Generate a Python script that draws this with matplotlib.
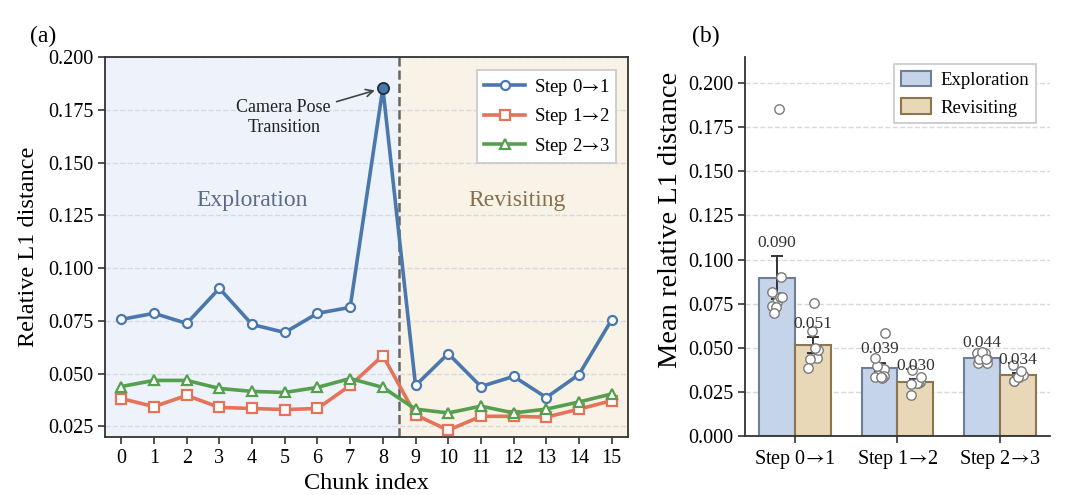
import matplotlib
matplotlib.use("Agg")
import matplotlib.pyplot as plt
import matplotlib.ticker as mticker
import numpy as np

plt.rcParams["font.family"] = ["Liberation Serif", "DejaVu Serif"]
plt.rcParams["mathtext.fontset"] = "stix"

# Per-chunk relative L1 distance
chunks = list(range(16))
step01 = [0.0757, 0.0786, 0.0738, 0.0904, 0.0733, 0.0695, 0.0786, 0.0814, 0.1853,
          0.0444, 0.0595, 0.0439, 0.0487, 0.0387, 0.0496, 0.0755]
step12 = [0.0382, 0.0344, 0.0397, 0.0340, 0.0335, 0.0330, 0.0335, 0.0444, 0.0586,
          0.0305, 0.0232, 0.0298, 0.0298, 0.0294, 0.0332, 0.0372]
step23 = [0.0439, 0.0468, 0.0468, 0.0430, 0.0416, 0.0411, 0.0435, 0.0477, 0.0435,
          0.0332, 0.0314, 0.0346, 0.0314, 0.0332, 0.0366, 0.0404]
ARROW = "$\\!{\\rightarrow}\\!$"
series_labels = [f"Step 0{ARROW}1", f"Step 1{ARROW}2", f"Step 2{ARROW}3"]
split_chunk = 8  # last exploration chunk
peak_chunk = 8

C_BLUE = "#4a78ac"
C_ORANGE = "#e5735a"
C_GREEN = "#55a04f"
colors = [C_BLUE, C_ORANGE, C_GREEN]
markers = ["o", "s", "^"]

fig = plt.figure(figsize=(10.8, 4.95), dpi=100)
ax1 = fig.add_axes([0.0972, 0.1172, 0.4843, 0.7676])
ax2 = fig.add_axes([0.690, 0.1192, 0.282, 0.7663])

# ---- (a) line plot ----
ax1.axvspan(-0.5, split_chunk + 0.5, color="#eef2fa", zorder=0)
ax1.axvspan(split_chunk + 0.5, 15.5, color="#f8f2e7", zorder=0)
ax1.axvline(split_chunk + 0.5, color="#666666", ls="--", lw=1.8, zorder=1)
ax1.grid(axis="y", ls="--", color="#d6d9de", lw=1.0, zorder=0.5)
ax1.set_axisbelow(True)

for vals, lab, c, m in zip([step01, step12, step23], series_labels, colors, markers):
    ax1.plot(chunks, vals, color=c, marker=m, ms=6.5, mfc="white", mec=c, mew=1.6,
             lw=2.6, label=lab, zorder=3)

ax1.plot(peak_chunk, step01[peak_chunk], "o", ms=8, mfc=C_BLUE, mec="#1e2a3a", mew=1.3, zorder=4)
ax1.annotate("Camera Pose\nTransition", xy=(peak_chunk, step01[peak_chunk]),
             xytext=(4.97, 0.1715), ha="center", va="center", fontsize=13, color="#222222",
             linespacing=1.25,
             arrowprops=dict(arrowstyle="->", color="#444444", lw=1.2, shrinkA=2, shrinkB=6),
             zorder=5)

ax1.text(4.0, 0.1318, "Exploration", ha="center", va="center", fontsize=17, color="#5a6a88")
ax1.text(12.1, 0.1318, "Revisiting", ha="center", va="center", fontsize=17, color="#86704f")

ax1.set_xlim(-0.5, 15.5)
ax1.set_ylim(0.02, 0.2)
ax1.set_xticks(chunks)
ax1.set_yticks([0.025, 0.05, 0.075, 0.1, 0.125, 0.15, 0.175, 0.2])
ax1.yaxis.set_major_formatter(mticker.FormatStrFormatter("%.3f"))
ax1.tick_params(labelsize=14.5, length=5, width=1.2, color="#333333")
for s in ax1.spines.values():
    s.set_color("#333333")
    s.set_linewidth(1.3)
ax1.set_xlabel("Chunk index", fontsize=17.5, labelpad=4)
ax1.set_ylabel("Relative L1 distance", fontsize=17.5, labelpad=6)
leg = ax1.legend(loc="upper right", fontsize=13.5, frameon=True, fancybox=False,
                 edgecolor="#cccccc", framealpha=1.0, borderpad=0.35, handlelength=2.2,
                 handletextpad=0.45, labelspacing=0.45, borderaxespad=0.2,
                 bbox_to_anchor=(0.985, 0.975))
leg.get_frame().set_linewidth(1.3)
fig.text(0.028, 0.905, "(a)", fontsize=17, ha="left", va="bottom")

# ---- (b) grouped bars ----
phases = ["Exploration", "Revisiting"]
bar_fill = ["#c6d4e9", "#e8d8b8"]
bar_edge = ["#6f7f99", "#8b7650"]
width = 0.35
x = np.arange(len(series_labels))

for gi, vals in enumerate([step01, step12, step23]):
    vals = np.array(vals)
    groups = [vals[:split_chunk + 1], vals[split_chunk + 1:]]
    for pi, g in enumerate(groups):
        xc = x[gi] + (pi - 0.5) * width
        mean = g.mean()
        sem = g.std(ddof=1) / np.sqrt(len(g))
        ax2.bar(xc, mean, width, color=bar_fill[pi], edgecolor=bar_edge[pi], lw=1.5,
                label=phases[pi] if gi == 0 else None, zorder=2)
        ax2.errorbar(xc, mean, yerr=sem, color="#333333", capsize=4, lw=1.4, capthick=1.4,
                     zorder=3)
        # deterministic jitter for the strip points
        jitter = 0.05 * np.sin(np.arange(len(g)) * 2.4 + gi + pi)
        ax2.scatter(xc + jitter, g, s=46, facecolor="white", edgecolor="#7a7a7a", lw=1.0,
                    zorder=4)
        ax2.text(xc, mean + sem + 0.003, f"{mean:.3f}", ha="center", va="bottom",
                 fontsize=12.5, color="#333333", zorder=5)

ax2.set_xticks(x)
ax2.set_xticklabels(series_labels)
ax2.set_ylim(0, 0.215)
ax2.set_yticks([0, 0.025, 0.05, 0.075, 0.1, 0.125, 0.15, 0.175, 0.2])
ax2.yaxis.set_major_formatter(mticker.FormatStrFormatter("%.3f"))
ax2.grid(axis="y", ls="--", color="#d6d9de", lw=1.0, zorder=0)
ax2.set_axisbelow(True)
ax2.spines["top"].set_visible(False)
ax2.spines["right"].set_visible(False)
for s in ["left", "bottom"]:
    ax2.spines[s].set_color("#333333")
    ax2.spines[s].set_linewidth(1.3)
ax2.tick_params(labelsize=14.5, length=5, width=1.2, color="#333333")
ax2.set_ylabel("Mean relative L1 distance", fontsize=20.5)
ax2.yaxis.set_label_coords(-0.205, 0.57)
leg2 = ax2.legend(loc="upper right", fontsize=13.5, frameon=True, fancybox=False,
                  edgecolor="#cccccc", framealpha=1.0, borderpad=0.35, handlelength=1.6,
                  handleheight=0.9, handletextpad=0.55, borderaxespad=0.2,
                  bbox_to_anchor=(0.968, 0.99))
leg2.get_frame().set_linewidth(1.3)
fig.text(0.641, 0.905, "(b)", fontsize=17, ha="left", va="bottom")

fig.savefig("out.png", dpi=100)
